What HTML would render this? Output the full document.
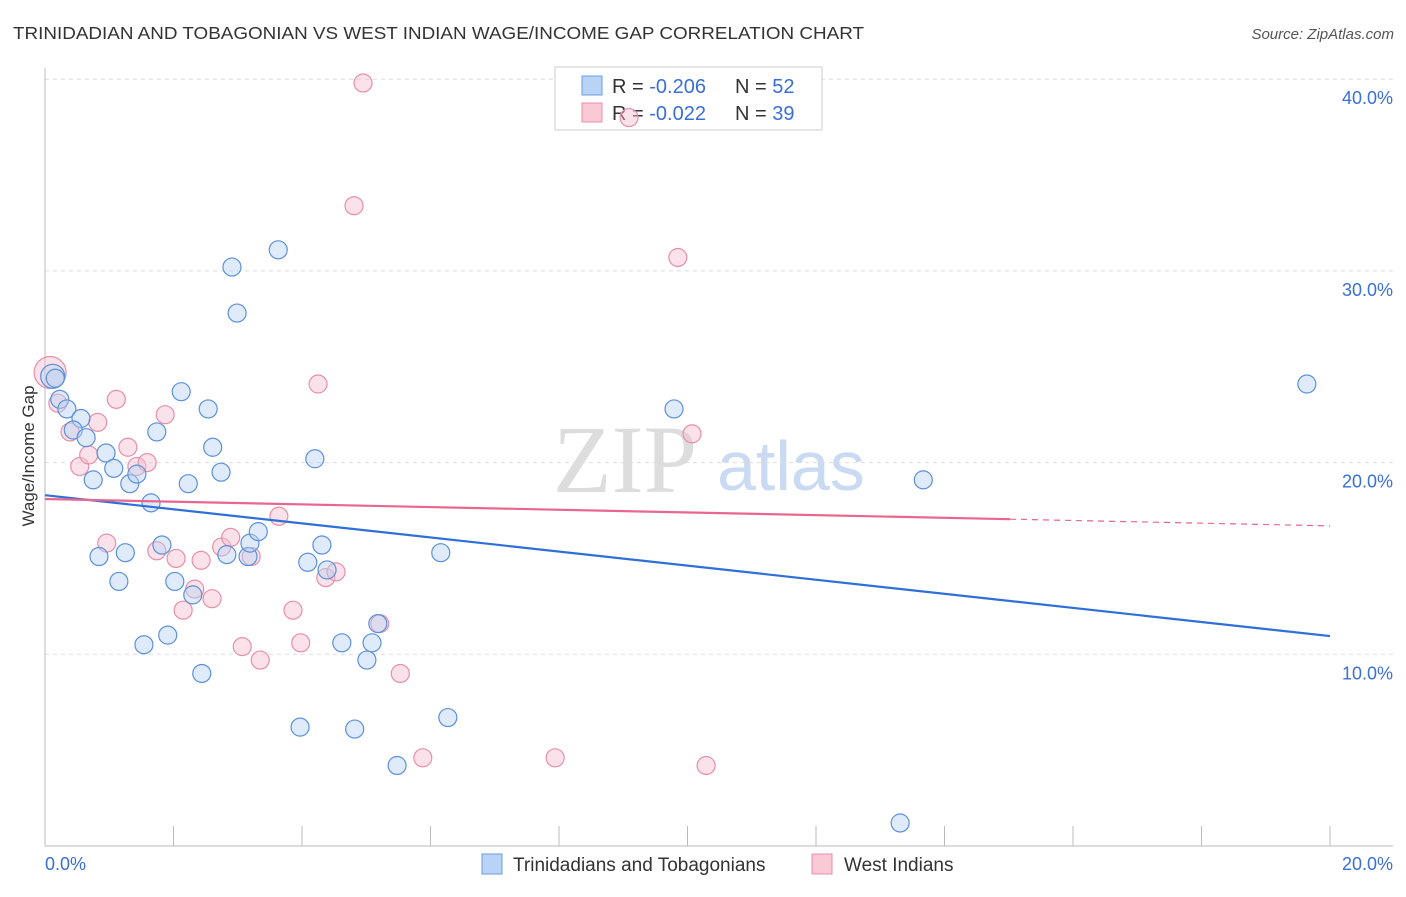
<!DOCTYPE html>
<html><head><meta charset="utf-8"><style>
body{margin:0;background:#fff;font-family:"Liberation Sans",sans-serif;}
</style></head><body>
<svg id="chart" width="1406" height="892" xmlns="http://www.w3.org/2000/svg" font-family="Liberation Sans, sans-serif">
<text x="13" y="39" font-size="17.5" fill="#333" textLength="851" lengthAdjust="spacingAndGlyphs">TRINIDADIAN AND TOBAGONIAN VS WEST INDIAN WAGE/INCOME GAP CORRELATION CHART</text>
<text x="1394" y="39" font-size="15" fill="#555" text-anchor="end" font-style="italic">Source: ZipAtlas.com</text>
<g>
<text x="553" y="492" font-size="96" font-family="Liberation Serif, serif" fill="#ddd">ZIP</text>
<text x="717" y="490" font-size="70" fill="#c9daf2">atlas</text>
</g>
<g id="grid"></g>
<g id="axes"></g>
<g>
<rect x="555" y="67" width="267" height="63" fill="#fff" stroke="#ccc"/>
<rect x="582" y="76" width="20" height="19" fill="#b8d3f5" stroke="#6a9ee0"/>
<rect x="582" y="103" width="20" height="19" fill="#f9c9d6" stroke="#e88fa8"/>
<text x="612" y="93" font-size="20" fill="#333">R = <tspan fill="#3a6fd8">-0.206</tspan></text>
<text x="735" y="93" font-size="20" fill="#333">N = <tspan fill="#3a6fd8">52</tspan></text>
<text x="612" y="120" font-size="20" fill="#333">R = <tspan fill="#3a6fd8">-0.022</tspan></text>
<text x="735" y="120" font-size="20" fill="#333">N = <tspan fill="#3a6fd8">39</tspan></text>
</g>
<g id="marks"></g>
<text transform="translate(34,456) rotate(-90)" font-size="17" fill="#333" text-anchor="middle">Wage/Income Gap</text>
<g>
<rect x="482" y="854" width="20" height="20" fill="#b8d3f5" stroke="#6a9ee0"/>
<text x="513" y="871" font-size="19" fill="#333">Trinidadians and Tobagonians</text>
<rect x="812" y="854" width="20" height="20" fill="#f9c9d6" stroke="#e88fa8"/>
<text x="844" y="871" font-size="19" fill="#333">West Indians</text>
</g>
</svg>
<script>
const blueX=[0.12,0.16,0.23,0.34,0.56,0.44,0.64,0.95,1.07,0.75,1.32,1.43,1.65,1.74,2.12,2.54,2.61,2.23,2.74,2.91,2.99,3.63,4.20,0.84,1.25,1.15,1.82,2.02,2.30,1.91,1.54,2.44,2.83,3.16,3.19,3.32,4.31,4.09,4.39,4.62,5.01,5.18,5.09,3.97,4.82,5.48,6.16,6.27,9.79,13.67,13.31,19.64];
const blueY=[24.5,24.4,23.3,22.8,22.3,21.7,21.3,20.5,19.7,19.1,18.9,19.4,17.9,21.6,23.7,22.8,20.8,18.9,19.5,30.2,27.8,31.1,20.2,15.1,15.3,13.8,15.7,13.8,13.1,11.0,10.5,9.0,15.2,15.1,15.8,16.4,15.7,14.8,14.4,10.6,9.7,11.6,10.6,6.2,6.1,4.2,15.3,6.7,22.8,19.1,1.2,24.1];
const pinkX=[0.08,0.20,0.39,0.54,0.68,0.82,1.11,0.96,1.29,1.43,1.59,1.87,1.74,2.04,2.15,2.33,2.43,2.60,2.75,2.89,3.21,3.07,3.35,3.64,3.86,3.98,4.25,4.37,4.53,4.81,4.95,5.21,5.53,5.88,7.94,9.09,9.85,10.07,10.29];
const pinkY=[24.7,23.1,21.6,19.8,20.4,22.1,23.3,15.8,20.8,19.8,20.0,22.5,15.4,15.0,12.3,13.4,14.9,12.9,15.6,16.1,15.1,10.4,9.7,17.2,12.3,10.6,24.1,14.0,14.3,33.4,39.8,11.6,9.0,4.6,4.6,38.0,30.7,21.5,4.2];
const yTicks=[10,20,30,40];
const xTickLabels=["0.0%","20.0%"];
const blueTrend=[18.3,10.95];
const pinkTrend=[18.1,16.7];
const pinkSolidEnd=15.02;
const NS="http://www.w3.org/2000/svg";
const X0=45,X1=1330,Y0=846,PPY=19.17;
const sx=v=>X0+(v/20)*(X1-X0);
const sy=v=>Y0-v*PPY;
function mk(tag,attrs,parent){const e=document.createElementNS(NS,tag);for(const k in attrs)e.setAttribute(k,attrs[k]);document.getElementById(parent).appendChild(e);return e;}
yTicks.forEach(t=>{
 const l=mk('line',{x1:X0,x2:1393,y1:sy(t),y2:sy(t),stroke:'#ddd','stroke-dasharray':'4,4'},'grid');
 
 
 const tx=mk('text',{x:1393,y:sy(t)+25,'font-size':18,fill:'#3a6fd8','text-anchor':'end'},'grid');
 tx.textContent=t.toFixed(1)+'%';
 
 
});
const ax=mk('line',{x1:X0,x2:X0,y1:68,y2:Y0,stroke:'#bbb'},'axes');


const bx=mk('line',{x1:X0,x2:1393,y1:Y0,y2:Y0,stroke:'#bbb'},'axes');


for(let i=0;i<=10;i++){const t=mk('line',{x1:sx(i*2),x2:sx(i*2),y1:826,y2:Y0,stroke:'#bbb'},'axes');
 
 }
const xl0=mk('text',{x:45,y:870,'font-size':18,fill:'#3a6fd8'},'axes');xl0.textContent=xTickLabels[0];


const xl1=mk('text',{x:1393,y:870,'font-size':18,fill:'#3a6fd8','text-anchor':'end'},'axes');xl1.textContent=xTickLabels[1];


function pts(xs,ys,fill,stroke,name,bigIdx){xs.forEach((x,i)=>{
 const c=mk('circle',{cx:sx(x),cy:sy(ys[i]),r:i===0?(bigIdx):9,fill:fill,'fill-opacity':0.45,stroke:stroke,'stroke-width':1.2},'marks');
 
 });}
pts(pinkX,pinkY,'#f7bfd0','#e88fa8','west-indian-point',16);
pts(blueX,blueY,'#b8d3f5','#5b90dc','trinidadian-point',12);
const bl=mk('line',{x1:sx(0),y1:sy(blueTrend[0]),x2:sx(20),y2:sy(blueTrend[1]),stroke:'#2f6fd8','stroke-width':2.2},'marks');


const pm=pinkTrend[0]+(pinkTrend[1]-pinkTrend[0])*pinkSolidEnd/20;
const pl=mk('line',{x1:sx(0),y1:sy(pinkTrend[0]),x2:sx(pinkSolidEnd),y2:sy(pm),stroke:'#e8668f','stroke-width':2.2},'marks');


const pd=mk('line',{x1:sx(pinkSolidEnd),y1:sy(pm),x2:sx(20),y2:sy(pinkTrend[1]),stroke:'#e8668f','stroke-width':1.2,'stroke-dasharray':'6,5'},'marks');


</script>
</body></html>
